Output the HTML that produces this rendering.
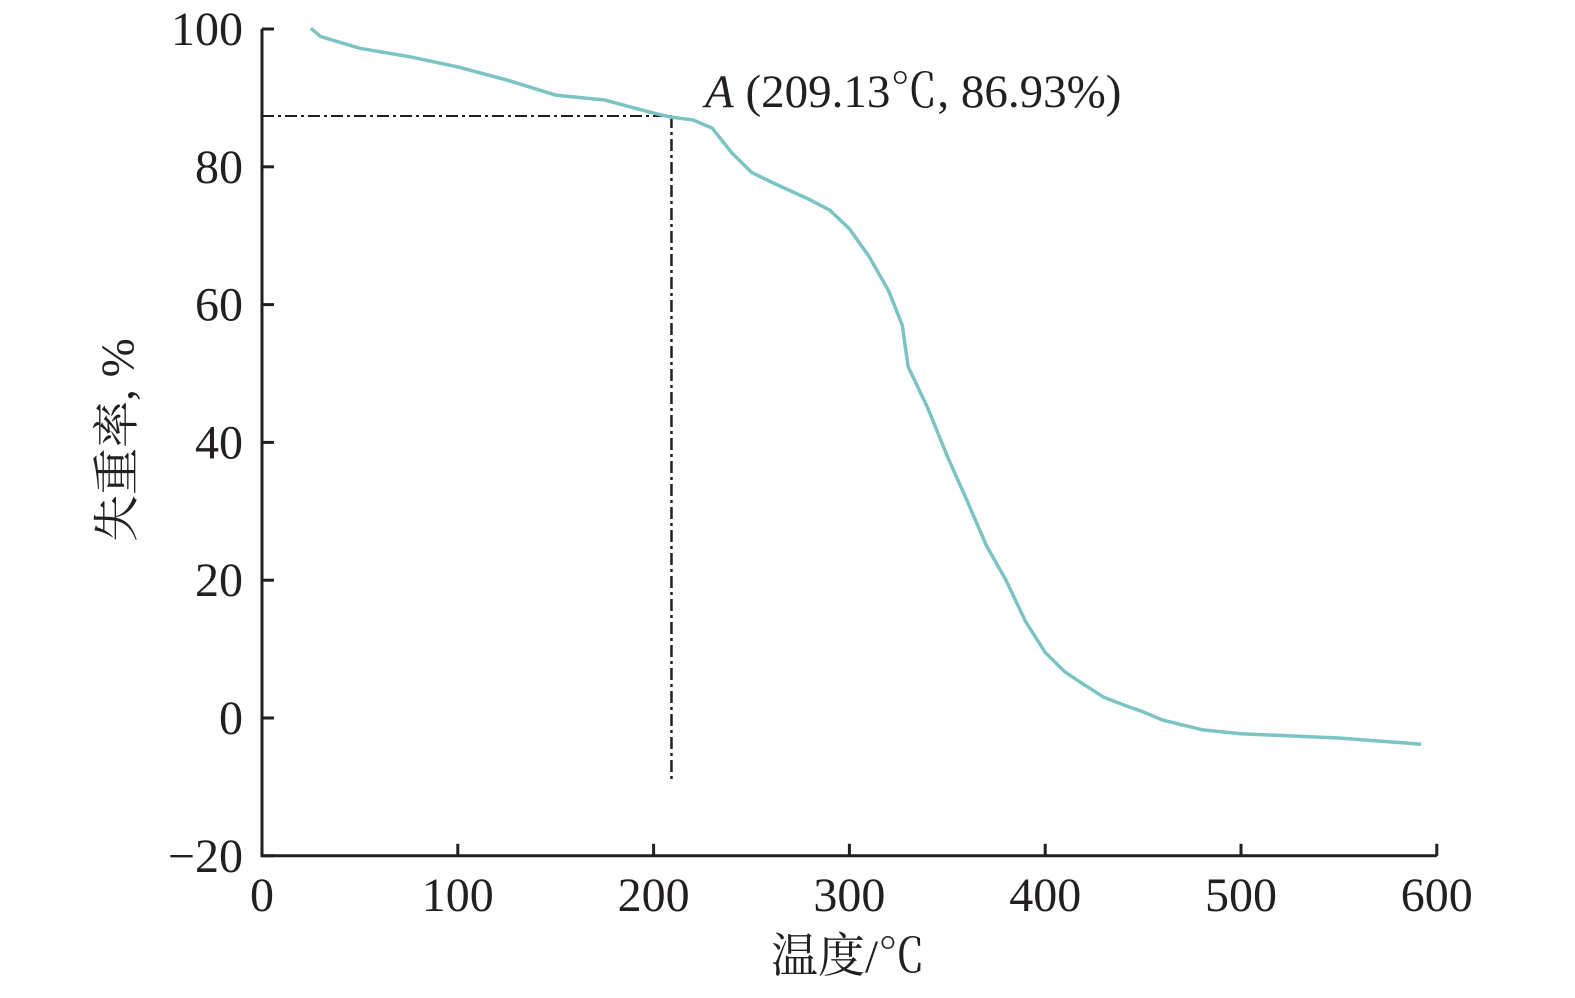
<!DOCTYPE html>
<html><head><meta charset="utf-8"><style>
html,body{margin:0;padding:0;background:#fff}
svg text{font-family:"Liberation Serif","Noto Serif CJK SC",serif;fill:#231f20}
</style></head><body>
<svg id="chart" width="1575" height="993" viewBox="0 0 1575 993" xmlns="http://www.w3.org/2000/svg">
<g id="axes"></g>
<g id="plot"></g>
<text x="705" y="107" font-size="47"><tspan font-style="italic">A</tspan> (209.13℃, 86.93%)</text>
<text x="848" y="972" font-size="47" text-anchor="middle">温度/℃</text>
<text transform="translate(133,440) rotate(-90)" font-size="47" text-anchor="middle">失重率, %</text>
</svg>
<script>
const temps=[25,30,50,75,100,125,150,175,200,209,220,230,240,250,260,280,290,300,310,320,327,330,340,350,360,370,380,390,400,410,420,430,440,450,460,480,500,550,592];
const loss=[100.1,98.9,97.2,96,94.5,92.6,90.4,89.7,87.8,87.2,86.8,85.6,82,79.2,77.8,75.2,73.7,71,67,62,57,51,45,38,31.6,25,20,14,9.5,6.7,4.8,3,1.9,0.9,-0.3,-1.7,-2.3,-2.9,-3.8];
const xTicks=[0,100,200,300,400,500,600];
const yTicks=[-20,0,20,40,60,80,100];
const pointA=[209.13,86.93];
const NS="http://www.w3.org/2000/svg";
const X=v=>262+v*1.958;
const Y=v=>718-v*6.89;
function mk(tag,attrs,parent){const e=document.createElementNS(NS,tag);for(const k in attrs)e.setAttribute(k,attrs[k]);parent.appendChild(e);return e;}
const axes=document.getElementById('axes'),plot=document.getElementById('plot');
let ax=mk('path',{d:`M${X(0)},${Y(100)}H${X(0)+6}M${X(0)},${Y(100)}V${Y(-20)}H${X(600)}`,stroke:'#231f20','stroke-width':3,fill:'none'},axes);


xTicks.forEach(t=>{
 const l=mk('line',{x1:X(t),x2:X(t),y1:Y(-20),y2:Y(-20)-12,stroke:'#231f20','stroke-width':3},axes);
 
 
 const tx=mk('text',{x:X(t),y:911,'font-size':48,'text-anchor':'middle'},axes);tx.textContent=t;
 
 
});
yTicks.forEach(t=>{
 const l=mk('line',{x1:X(0),x2:X(0)+12,y1:Y(t),y2:Y(t),stroke:'#231f20','stroke-width':3},axes);
 
 
 const tx=mk('text',{x:243,y:Y(t)+16,'font-size':48,'text-anchor':'end'},axes);tx.textContent=(t<0?'\u2212'+(-t):t);
 
 
});
const h=mk('line',{x1:X(0),x2:X(pointA[0]),y1:Y(pointA[1])-3,y2:Y(pointA[1])-3,stroke:'#231f20','stroke-width':2,'stroke-dasharray':'12 4 3 4'},plot);


const v=mk('line',{x1:X(pointA[0]),x2:X(pointA[0]),y1:Y(pointA[1])-3,y2:782,stroke:'#231f20','stroke-width':2.5,'stroke-dasharray':'12 4 3 4'},plot);


const pts=temps.map((t,i)=>X(t).toFixed(1)+','+Y(loss[i]).toFixed(1)).join(' ');
const c=mk('polyline',{points:pts,fill:'none',stroke:'#7cc4c4','stroke-width':3.5,'stroke-linejoin':'round'},plot);


</script>
</body></html>
